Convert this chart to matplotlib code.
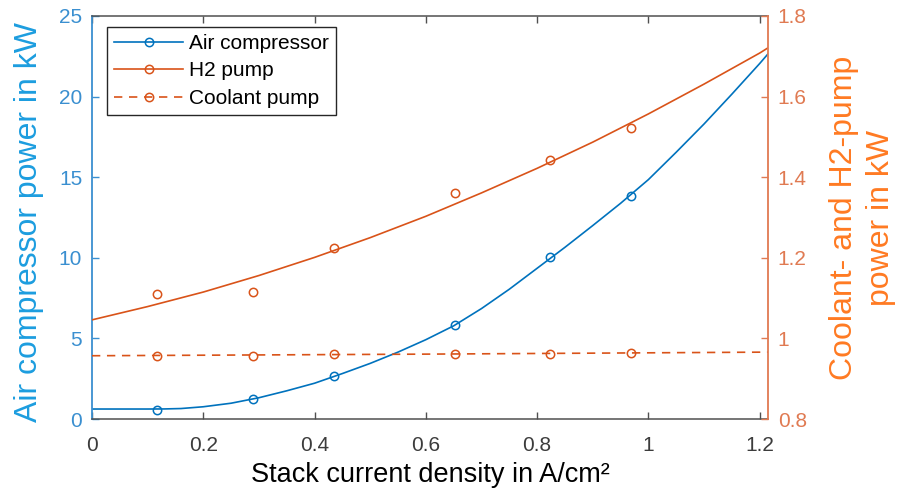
import matplotlib
matplotlib.use("Agg")
import matplotlib.pyplot as plt
from matplotlib.lines import Line2D
from matplotlib.ticker import FuncFormatter

# ---- data ----
x_points = [0.117, 0.289, 0.435, 0.653, 0.823, 0.968]
air_points = [0.56, 1.24, 2.67, 5.83, 10.07, 13.83]
h2_points = [1.110, 1.115, 1.224, 1.361, 1.443, 1.522]
coolant_points = [0.957, 0.957, 0.961, 0.961, 0.962, 0.965]

# fitted curves
air_fit_x = [0, 0.1, 0.13, 0.16, 0.2, 0.25, 0.3, 0.35, 0.4, 0.45, 0.5, 0.55, 0.6, 0.65,
             0.7, 0.75, 0.8, 0.85, 0.9, 0.95, 1.0, 1.05, 1.1, 1.15, 1.2, 1.215]
air_fit_y = [0.62, 0.62, 0.625, 0.65, 0.76, 0.98, 1.32, 1.75, 2.22, 2.82, 3.45, 4.15, 4.92, 5.78,
             6.85, 8.05, 9.35, 10.65, 12.0, 13.38, 14.85, 16.55, 18.3, 20.15, 22.05, 22.65]
h2_fit_x = [0, 0.1, 0.2, 0.3, 0.4, 0.5, 0.6, 0.7, 0.8, 0.9, 1.0, 1.1, 1.2, 1.215]
h2_fit_y = [1.046, 1.079, 1.115, 1.156, 1.201, 1.250, 1.303, 1.361, 1.422, 1.487,
            1.557, 1.631, 1.708, 1.721]
coolant_fit_x = [0, 0.6, 1.215]
coolant_fit_y = [0.957, 0.961, 0.966]

x_ticks = [0, 0.2, 0.4, 0.6, 0.8, 1.0, 1.2]
left_ticks = [0, 5, 10, 15, 20, 25]
right_ticks = [0.8, 1.0, 1.2, 1.4, 1.6, 1.8]

series_labels = ["Air compressor", "H2 pump", "Coolant pump"]

# ---- style ----
BLUE = "#0072BD"
ORANGE = "#D95319"
LEFT_TICK_C = "#3a8fd0"
LEFT_LABEL_C = "#1c9ddf"
RIGHT_TICK_C = "#e07a52"
RIGHT_LABEL_C = "#ff7a22"
GRAY = "#505050"
FONT = "Liberation Sans"

plt.rcParams["font.family"] = [FONT, "DejaVu Sans"]

fig = plt.figure(figsize=(8.99, 4.98), dpi=100)
ax = fig.add_axes([0.1023, 0.1586, 0.752, 0.8093])
ax2 = ax.twinx()

lw = 1.2
ms = 6
ax.plot(air_fit_x, air_fit_y, color=BLUE, lw=lw)
ax.plot(x_points, air_points, ls="none", marker="o", ms=ms, mfc="none", mec=BLUE, mew=1.1)

ax2.plot(h2_fit_x, h2_fit_y, color=ORANGE, lw=lw)
ax2.plot(x_points, h2_points, ls="none", marker="o", ms=ms, mfc="none", mec=ORANGE, mew=1.1)
ax2.plot(coolant_fit_x, coolant_fit_y, color=ORANGE, lw=lw, ls=(0, (5, 4)))
ax2.plot(x_points, coolant_points, ls="none", marker="o", ms=ms, mfc="none", mec=ORANGE, mew=1.1)

ax.set_xlim(0, 1.215)
ax.set_ylim(0, 25)
ax2.set_ylim(0.8, 1.8)

fmt = FuncFormatter(lambda v, p: "%g" % v)
ax.set_xticks(x_ticks)
ax.set_yticks(left_ticks)
ax2.set_yticks(right_ticks)
ax.xaxis.set_major_formatter(fmt)
ax.yaxis.set_major_formatter(fmt)
ax2.yaxis.set_major_formatter(fmt)

ax.tick_params(axis="x", direction="in", top=True, bottom=True, length=5, width=1,
               color=GRAY, labelcolor="#3c3c3c", labelsize=15, pad=12)
ax.tick_params(axis="y", direction="in", left=True, right=False, length=5, width=1,
               color=LEFT_TICK_C, labelcolor=LEFT_TICK_C, labelsize=15, pad=7)
ax2.tick_params(axis="y", direction="in", right=True, length=5, width=1,
                color=RIGHT_TICK_C, labelcolor=RIGHT_TICK_C, labelsize=15, pad=7)

for s in ["top", "bottom"]:
    ax.spines[s].set_color(GRAY)
    ax.spines[s].set_linewidth(1.1)
ax.spines["left"].set_color(LEFT_TICK_C)
ax.spines["left"].set_linewidth(1.3)
ax.spines["right"].set_visible(False)
for s in ["top", "bottom", "left"]:
    ax2.spines[s].set_visible(False)
ax2.spines["right"].set_color(RIGHT_TICK_C)
ax2.spines["right"].set_linewidth(1.3)

ax.set_xlabel("Stack current density in A/cm²", fontsize=19.5, color="black")
ax.xaxis.set_label_coords(0.5, -0.107)
ax.set_ylabel("Air compressor power in kW", fontsize=23, color=LEFT_LABEL_C)
ax.yaxis.set_label_coords(-0.071, 0.49)
ax2.set_ylabel("Coolant- and H2-pump\npower in kW", fontsize=23, color=RIGHT_LABEL_C,
               linespacing=1.3)
ax2.yaxis.set_label_coords(1.09, 0.5)

handles = [
    Line2D([], [], color=BLUE, lw=lw, marker="o", ms=ms, mfc="none", mec=BLUE, mew=1.1),
    Line2D([], [], color=ORANGE, lw=lw, marker="o", ms=ms, mfc="none", mec=ORANGE, mew=1.1),
    Line2D([], [], color=ORANGE, lw=lw, ls=(0, (5, 4)), marker="o", ms=ms, mfc="none",
           mec=ORANGE, mew=1.1),
]
leg = ax2.legend(handles, series_labels, loc="upper left", bbox_to_anchor=(0.022, 0.973),
                 fontsize=15, numpoints=1, handlelength=3.3, handletextpad=0.3,
                 borderpad=0.35, labelspacing=0.4, borderaxespad=0, fancybox=False,
                 framealpha=1, edgecolor="#262626")
leg.get_frame().set_linewidth(1.0)

fig.savefig("out.png", dpi=100)
